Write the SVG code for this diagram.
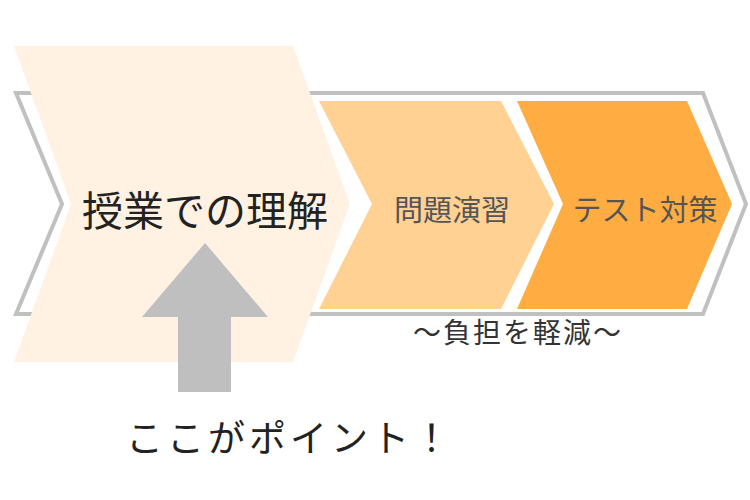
<svg xmlns="http://www.w3.org/2000/svg" width="750" height="500" viewBox="0 0 750 500">
<style>
.t{font-family:"Noto Sans CJK JP","Noto Sans CJK SC",sans-serif;text-anchor:middle;dominant-baseline:central}
</style>
<rect width="750" height="500" fill="#ffffff"/>
<g id="frame">
<polygon points="16,93 703,93 746,204 703,314 16,314 62,204" fill="#ffffff" stroke="#c0c0c0" stroke-width="4"/>
</g>
<g id="node-practice">
<polygon points="319,101 501,101 554,204 501,309 319,309 372,204" fill="#ffd193"/>
<text class="t" x="452" y="208" font-size="29" fill="#555555">問題演習</text>
</g>
<g id="node-test">
<polygon points="517,101 687,101 732,204 687,309 517,309 563,204" fill="#ffac43"/>
<text class="t" x="645" y="208" font-size="29" fill="#555555">テスト対策</text>
</g>
<g id="node-class">
<polygon points="14,46 293,46 350,204 293,362 14,362 71,204" fill="#fff2e2"/>
<text class="t" x="205" y="208" font-size="41" fill="#222222">授業での理解</text>
</g>
<g id="connectors">
<polygon points="205,243 268,317 231,317 231,392 178,392 178,317 142,317" fill="#bfbfbf"/>
</g>
<g id="labels">
<text class="t" x="518" y="331" font-size="28" letter-spacing="2" fill="#333333">～負担を軽減～</text>
<text class="t" x="290" y="436" font-size="37" letter-spacing="4" fill="#222222">ここがポイント！</text>
</g>
</svg>
